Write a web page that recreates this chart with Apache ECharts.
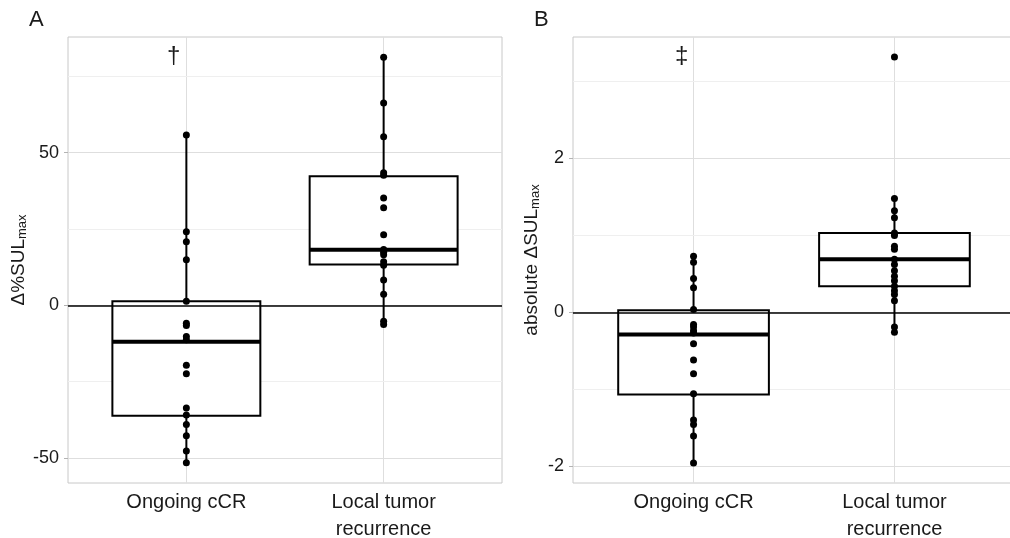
<!DOCTYPE html>
<html>
<head>
<meta charset="utf-8">
<script src="https://cdn.jsdelivr.net/npm/echarts@6/dist/echarts.min.js"></script>
<style>
  html, body { margin: 0; padding: 0; background: #fff; }
  #chart { width: 1010px; height: 538px; }
</style>
</head>
<body>
<div id="chart"></div>
<script>
  // categories and their positions on the discrete axis
  const categories = ['Ongoing cCR', 'Local tumor\nrecurrence']
  const catPos = [1, 2]

  // panel A: delta %SULmax
  const ongoingA = [55.8, 24.1, 20.8, 14.9, 1.3, -5.9, -6.6, -10.2, -11.3, -19.6, -22.4, -33.6, -35.9, -39.0, -42.7, -47.7, -51.6]
  const localA = [81.3, 66.3, 55.2, 43.4, 42.6, 35.2, 32.0, 23.1, 18.3, 17.4, 16.6, 14.3, 13.1, 8.3, 3.6, -5.2, -6.3]
  // box stats: [lower whisker, Q1, median, Q3, upper whisker]
  const boxOngoingA = [-51.6, -36.2, -11.9, 1.3, 55.8]
  const boxLocalA = [-6.3, 13.4, 18.2, 42.3, 81.3]
  const rangeA = [-58.2, 87.9]
  const ticksA = [-50, 0, 50]
  const minorA = [-25, 25, 75]

  // panel B: absolute delta SULmax
  const ongoingB = [0.73, 0.65, 0.44, 0.32, 0.035, -0.16, -0.19, -0.24, -0.27, -0.41, -0.62, -0.80, -1.06, -1.40, -1.46, -1.61, -1.96]
  const localB = [3.32, 1.48, 1.32, 1.23, 1.03, 1.00, 0.86, 0.82, 0.69, 0.62, 0.54, 0.47, 0.41, 0.34, 0.28, 0.23, 0.15, -0.19, -0.26]
  const boxOngoingB = [-1.96, -1.07, -0.29, 0.026, 0.73]
  const boxLocalB = [-0.26, 0.34, 0.69, 1.03, 1.48]
  const rangeB = [-2.22, 3.58]
  const ticksB = [-2, 0, 2]
  const minorB = [-1, 1, 3]

  const FONT = '"Liberation Sans", Arial, sans-serif'
  const TXT = '#1a1a1a'

  function renderBox(params, api) {
    const x = api.value(0)
    const lo = api.coord([x, api.value(1)])
    const q1 = api.coord([x, api.value(2)])
    const med = api.coord([x, api.value(3)])
    const q3 = api.coord([x, api.value(4)])
    const hi = api.coord([x, api.value(5)])
    const half = api.size([0.75, 0])[0] / 2
    const line = { stroke: '#000', lineWidth: 2 }
    return {
      type: 'group',
      children: [
        { type: 'line', shape: { x1: lo[0], y1: lo[1], x2: q1[0], y2: q1[1] }, style: line },
        { type: 'line', shape: { x1: q3[0], y1: q3[1], x2: hi[0], y2: hi[1] }, style: line },
        { type: 'rect', shape: { x: q3[0] - half, y: q3[1], width: half * 2, height: q1[1] - q3[1] },
          style: { fill: '#fff', stroke: '#000', lineWidth: 2 } },
        { type: 'line', shape: { x1: med[0] - half, y1: med[1], x2: med[0] + half, y2: med[1] },
          style: { stroke: '#000', lineWidth: 4 } }
      ]
    }
  }

  function xAxisFor(idx) {
    return {
      gridIndex: idx, type: 'value', min: 0.4, max: 2.6,
      axisLine: { show: false },
      axisTick: { show: true, customValues: catPos, length: 4, lineStyle: { color: '#b3b3b3' } },
      axisLabel: {
        customValues: catPos, margin: 6, fontSize: 20, lineHeight: 27, color: TXT, fontFamily: FONT,
        formatter: v => categories[catPos.indexOf(v)] || ''
      },
      splitLine: { show: true, lineStyle: { color: '#dedede', width: 1 } }
    }
  }

  function yAxisFor(idx, range, ticks, name, gap) {
    return {
      gridIndex: idx, type: 'value', min: range[0], max: range[1],
      name: name, nameLocation: 'middle', nameGap: gap,
      nameTextStyle: {
        rich: {
          a: { fontSize: 19, color: TXT, fontFamily: FONT },
          s: { fontSize: 13, color: TXT, fontFamily: FONT, padding: [8, 0, 0, 0] }
        }
      },
      axisLine: { show: false },
      axisTick: { show: true, customValues: ticks, length: 4, lineStyle: { color: '#b3b3b3' } },
      axisLabel: { customValues: ticks, margin: 9, fontSize: 18, color: TXT, fontFamily: FONT },
      splitLine: { show: true, lineStyle: { color: '#dedede', width: 1 } }
    }
  }

  function panelSeries(idx, ongoing, local, boxOngoing, boxLocal, minor) {
    const pts = ongoing.map(v => [catPos[0], v]).concat(local.map(v => [catPos[1], v]))
    return [
      {
        type: 'custom', xAxisIndex: idx, yAxisIndex: idx, z: 3,
        renderItem: renderBox,
        encode: { x: 0, y: [1, 2, 3, 4, 5] },
        data: [[catPos[0]].concat(boxOngoing), [catPos[1]].concat(boxLocal)],
        markLine: {
          silent: true, symbol: 'none', z: 5,
          label: { show: false },
          lineStyle: { color: '#000', width: 1.5, type: 'solid' },
          data: [{ yAxis: 0 }]
        }
      },
      {
        type: 'scatter', xAxisIndex: idx, yAxisIndex: idx, z: 6,
        symbolSize: 7, itemStyle: { color: '#000', opacity: 1 },
        data: pts,
        markLine: {
          silent: true, symbol: 'none', z: 1,
          label: { show: false },
          lineStyle: { color: '#efefef', width: 1, type: 'solid' },
          data: minor.map(v => ({ yAxis: v }))
        }
      }
    ]
  }

  const chart = echarts.init(document.getElementById('chart'), null, { renderer: 'canvas' })
  chart.setOption({
    animation: false,
    backgroundColor: '#fff',
    textStyle: { fontFamily: FONT },
    grid: [
      { left: 68, top: 37, width: 434, height: 446, outerBoundsMode: 'none', containLabel: false,
        show: true, borderColor: '#c8c8c8', borderWidth: 1 },
      { left: 573, top: 37, width: 442, height: 446, outerBoundsMode: 'none', containLabel: false,
        show: true, borderColor: '#c8c8c8', borderWidth: 1 }
    ],
    xAxis: [xAxisFor(0), xAxisFor(1)],
    yAxis: [
      yAxisFor(0, rangeA, ticksA, '{a|Δ%SUL}{s|max}', 34),
      yAxisFor(1, rangeB, ticksB, '{a|absolute ΔSUL}{s|max}', 31)
    ],
    graphic: [
      { type: 'text', left: 29, top: 9, style: { text: 'A', fontSize: 22, fill: TXT, fontFamily: FONT } },
      { type: 'text', left: 534, top: 9, style: { text: 'B', fontSize: 22, fill: TXT, fontFamily: FONT } },
      { type: 'text', left: 167, top: 44, style: { text: '†', fontSize: 24, fill: TXT, fontFamily: FONT } },
      { type: 'text', left: 675, top: 44, style: { text: '‡', fontSize: 24, fill: TXT, fontFamily: FONT } }
    ],
    series: panelSeries(0, ongoingA, localA, boxOngoingA, boxLocalA, minorA)
      .concat(panelSeries(1, ongoingB, localB, boxOngoingB, boxLocalB, minorB))
  })
</script>
</body>
</html>
